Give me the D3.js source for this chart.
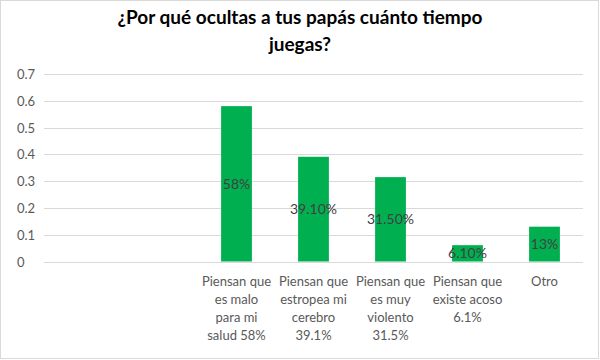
<!DOCTYPE html>
<html><head><meta charset="utf-8">
<script src="https://cdn.jsdelivr.net/npm/d3@7"></script>
<style>body{margin:0;background:#fff}svg{display:block}</style>
</head><body><svg id="c" width="600" height="360"></svg>
<script>
const titleLines = ["¿Por qué ocultas a tus papás cuánto tiempo", "juegas?"];
const categories = ["", "",
  "Piensan que\nes malo\npara mi\nsalud 58%",
  "Piensan que\nestropea mi\ncerebro\n39.1%",
  "Piensan que\nes muy\nviolento\n31.5%",
  "Piensan que\nexiste acoso\n6.1%",
  "Otro"];
const values = [null, null, 0.58, 0.391, 0.315, 0.061, 0.13];
const valueLabels = ["", "", "58%", "39.10%", "31.50%", "6.10%", "13%"];
const yTicks = [0, 0.1, 0.2, 0.3, 0.4, 0.5, 0.6, 0.7];

const font = "Lato, 'Open Sans', sans-serif";
const svg = d3.select("#c");
svg.append("rect").attr("x",0.5).attr("y",0.5).attr("width",598).attr("height",358)
  .attr("fill","#fff").attr("stroke","#d9d9d9");

svg.append("g").selectAll("text").data(titleLines).join("text")
  .attr("x", 300).attr("y",(d,i)=>24+i*27).attr("text-anchor","middle")
  .attr("font-family", font).attr("font-weight","bold").attr("font-size",19)
  .attr("fill","#000").text(d=>d);

const x = d3.scaleBand().domain(d3.range(categories.length)).range([44,583]).paddingInner(0.6).paddingOuter(0.3);
const y = d3.scaleLinear().domain([0,0.7]).range([261.5,74]);

const grid = svg.append("g");
grid.selectAll("line").data(yTicks).join("line")
  .attr("x1",44).attr("x2",583).attr("y1",d=>Math.round(y(d))+0.5).attr("y2",d=>Math.round(y(d))+0.5)
  .attr("stroke","#d9d9d9").attr("stroke-width",1);

const yAxis = d3.axisLeft(y).tickValues(yTicks).tickSize(0).tickFormat(d=>d===0?"0":d3.format(".1f")(d));
const ya = svg.append("g").attr("transform","translate(17,0)").call(yAxis);
ya.select(".domain").remove();
ya.selectAll("text").attr("text-anchor","start").attr("x",0).attr("dy","0.35em")
  .attr("font-family",font).attr("font-size",13).attr("fill","#595959");

const idx = d3.range(categories.length).filter(i=>values[i]!==null);
svg.append("g").selectAll("rect").data(idx).join("rect")
  .attr("x",i=>x(i)).attr("width",x.bandwidth())
  .attr("y",i=>y(values[i])).attr("height",i=>y(0)-y(values[i]))
  .attr("fill","#00b050");

svg.append("g").selectAll("text").data(idx).join("text")
  .attr("x",i=>x(i)+x.bandwidth()/2).attr("y",i=>y(values[i]/2)).attr("dy","0.35em")
  .attr("text-anchor","middle").attr("font-family",font).attr("font-size",14).attr("fill","#404040")
  .text(i=>valueLabels[i]);

const xa = svg.append("g");
d3.range(categories.length).forEach(i=>{
  const lines = categories[i] ? categories[i].split("\n") : [];
  const t = xa.append("text").attr("text-anchor","middle").attr("font-family",font)
    .attr("font-size",13).attr("fill","#595959");
  lines.forEach((l,j)=>{
    t.append("tspan").attr("x",x(i)+x.bandwidth()/2).attr("y",281+j*18).attr("dy","0.35em").text(l);
  });
});
</script></body></html>
